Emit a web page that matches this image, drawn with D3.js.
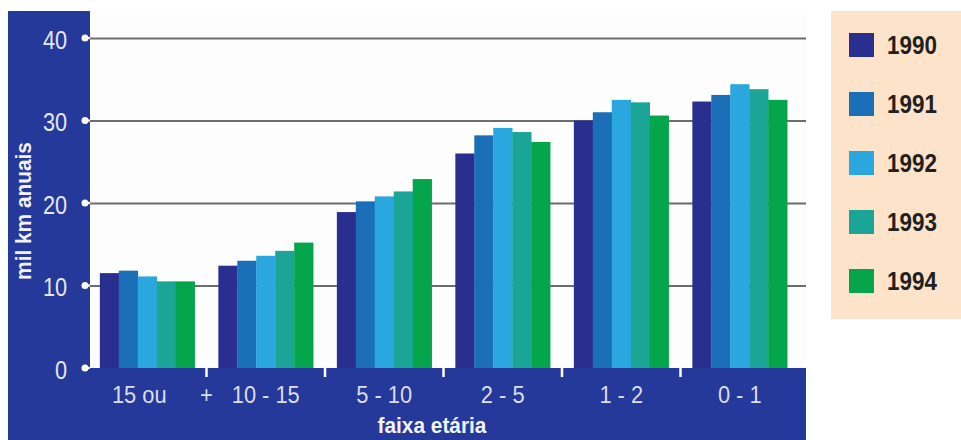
<!DOCTYPE html>
<meta charset="utf-8">

<script src="https://d3js.org/d3.v7.min.js"></script>

<style type="text/css">

body {
  margin: 0;
  background: white;
}

text {
  font-family: "Liberation Sans", Arial, sans-serif;
}

.tickLabel {
  font-size: 25.5px;
  fill: #e6e7f2;
}

.catLabel {
  font-size: 23.5px;
  fill: #dcdeee;
}

.axisTitle {
  font-size: 21.5px;
  font-weight: bold;
  fill: #f2f2f8;
}

.legendText {
  font-size: 25.5px;
  font-weight: bold;
  fill: #231f20;
}

.grid line {
  stroke: #6d6d6d;
  stroke-width: 2px;
}

</style>

<body>
  <div id="chart"></div>
</body>

<script>

  // ---------------------------//
  //            DATA            //
  // ---------------------------//

  const categories = ["15 ou +", "10 - 15", "5 - 10", "2 - 5", "1 - 2", "0 - 1"]
  const years = ["1990", "1991", "1992", "1993", "1994"]

  // mil km anuais, one array per year, in category order
  const v1990 = [11.5, 12.4, 18.9, 26.0, 30.0, 32.3]
  const v1991 = [11.8, 13.0, 20.2, 28.2, 31.0, 33.1]
  const v1992 = [11.1, 13.6, 20.8, 29.1, 32.5, 34.4]
  const v1993 = [10.5, 14.2, 21.4, 28.6, 32.2, 33.8]
  const v1994 = [10.5, 15.2, 22.9, 27.4, 30.6, 32.5]

  const yTicks = [0, 10, 20, 30, 40]

  const seriesValues = [v1990, v1991, v1992, v1993, v1994]
  const colors = ["#2a2f8f", "#1b6fb8", "#2ba7df", "#1aa597", "#05a64b"]

  // ---------------------------//
  //           LAYOUT           //
  // ---------------------------//

  const outerWidth = 961
  const outerHeight = 440
  const panel = {left: 8, top: 11, right: 806}
  const plot = {left: 90, top: 11, right: 806, bottom: 368}
  const legendBox = {x: 831, y: 11, w: 130, h: 308}

  // the original type is a condensed face, so squeeze text horizontally
  function squeeze(sel, sx, xFn) {
    sel.attr("transform", `scale(${sx},1)`)
       .attr("x", (d, i) => xFn(d, i) / sx)
  }

  const SVG = d3.select("#chart").append("svg")
    .attr("width", outerWidth)
    .attr("height", outerHeight)

  const x0 = d3.scaleBand()
    .domain(categories)
    .range([88, 799])
    .paddingInner(0.2)
    .paddingOuter(0.1)

  const x1 = d3.scaleBand()
    .domain(years)
    .range([0, x0.bandwidth()])

  const y = d3.scaleLinear()
    .domain([0, 40])
    .range([plot.bottom, 38])

  const color = d3.scaleOrdinal()
    .domain(years)
    .range(colors)

  // dark blue frame
  SVG.append("rect")
    .attr("x", panel.left)
    .attr("y", panel.top)
    .attr("width", panel.right - panel.left)
    .attr("height", outerHeight - panel.top)
    .attr("fill", "#24399a")

  // white plot area
  SVG.append("rect")
    .attr("x", plot.left)
    .attr("y", plot.top)
    .attr("width", plot.right - plot.left)
    .attr("height", plot.bottom - plot.top)
    .attr("fill", "#fdfdfd")

  // gridlines
  const yAxis = d3.axisLeft(y)
    .tickValues(yTicks.filter(d => d > 0))
    .tickSize(-(plot.right - 85))
    .tickFormat("")

  SVG.append("g")
    .attr("class", "grid")
    .attr("transform", "translate(85,0)")
    .call(yAxis)
    .call(g => g.select(".domain").remove())

  // y tick dots + labels
  SVG.selectAll(".tickStub")
    .data(yTicks)
    .enter()
    .append("line")
    .attr("class", "tickStub")
    .attr("x1", 85)
    .attr("x2", plot.left)
    .attr("y1", d => y(d))
    .attr("y2", d => y(d))
    .attr("stroke", "white")
    .attr("stroke-width", 2)

  SVG.selectAll(".tickDot")
    .data(yTicks)
    .enter()
    .append("circle")
    .attr("class", "tickDot")
    .attr("cx", 85)
    .attr("cy", d => y(d))
    .attr("r", 3.5)
    .attr("fill", "white")

  SVG.selectAll(".tickLabel")
    .data(yTicks)
    .enter()
    .append("text")
    .attr("class", "tickLabel")
    .attr("y", d => y(d) + 11)
    .attr("text-anchor", "end")
    .text(d => d)
    .call(squeeze, 0.85, () => 67)

  // ---------------------------//
  //            BARS            //
  // ---------------------------//

  const barData = []
  categories.forEach((c, i) => {
    years.forEach((yr, j) => {
      barData.push({cat: c, year: yr, value: seriesValues[j][i]})
    })
  })

  SVG.selectAll(".bar")
    .data(barData)
    .enter()
    .append("rect")
    .attr("class", "bar")
    .attr("x", d => x0(d.cat) + x1(d.year))
    .attr("y", d => y(d.value))
    .attr("width", x1.bandwidth() + 0.3)
    .attr("height", d => y(0) - y(d.value))
    .attr("fill", d => color(d.year))

  // white ticks between groups
  const step = x0.step()
  const boundaries = categories.slice(0, -1).map(c => x0(c) + x0.bandwidth() + (step - x0.bandwidth()) / 2)

  SVG.selectAll(".xTick")
    .data(boundaries)
    .enter()
    .append("line")
    .attr("class", "xTick")
    .attr("x1", d => d)
    .attr("x2", d => d)
    .attr("y1", plot.bottom)
    .attr("y2", plot.bottom + 9)
    .attr("stroke", "white")
    .attr("stroke-width", 2.5)

  // category labels (the "+" of the first one sits on the tick)
  SVG.selectAll(".catLabel")
    .data(categories)
    .enter()
    .append("text")
    .attr("class", "catLabel")
    .attr("y", 403)
    .attr("text-anchor", "middle")
    .text(d => d.replace(" +", ""))
    .call(squeeze, 0.93, (d, i) => x0(d) + x0.bandwidth() / 2 + (i === 0 ? -8 : 0))

  SVG.append("text")
    .attr("class", "catLabel")
    .attr("y", 403)
    .attr("text-anchor", "middle")
    .text("+")
    .call(squeeze, 0.93, () => boundaries[0])

  // axis titles
  SVG.append("text")
    .attr("class", "axisTitle")
    .attr("y", 433)
    .attr("text-anchor", "middle")
    .text("faixa etária")
    .call(squeeze, 0.97, () => 432)

  SVG.append("text")
    .attr("class", "axisTitle")
    .attr("transform", "translate(31,211) rotate(-90) scale(0.97,1)")
    .attr("text-anchor", "middle")
    .text("mil km anuais")

  // ---------------------------//
  //           LEGEND           //
  // ---------------------------//

  SVG.append("rect")
    .attr("x", legendBox.x)
    .attr("y", legendBox.y)
    .attr("width", legendBox.w)
    .attr("height", legendBox.h)
    .attr("fill", "#fce3c9")

  const legendY = d3.scalePoint()
    .domain(years)
    .range([45, 281])

  SVG.selectAll(".legendSwatch")
    .data(years)
    .enter()
    .append("rect")
    .attr("class", "legendSwatch")
    .attr("x", 849)
    .attr("y", d => legendY(d) - 12)
    .attr("width", 25)
    .attr("height", 24)
    .attr("fill", d => color(d))

  SVG.selectAll(".legendText")
    .data(years)
    .enter()
    .append("text")
    .attr("class", "legendText")
    .attr("y", d => legendY(d) + 9)
    .text(d => d)
    .call(squeeze, 0.88, () => 887)

</script>
